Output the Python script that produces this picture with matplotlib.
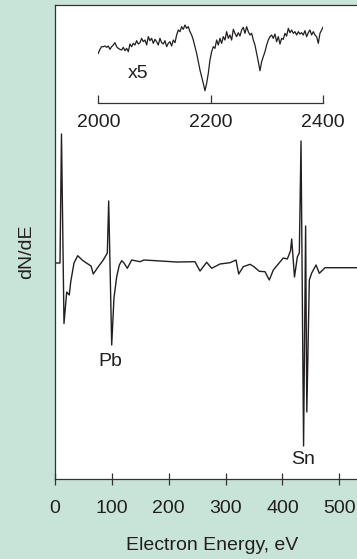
import matplotlib
matplotlib.use("Agg")
import matplotlib.pyplot as plt
import numpy as np

plt.rcParams['font.family'] = ['Liberation Sans', 'DejaVu Sans']

# Main spectrum (Electron energy in eV, dN/dE in arbitrary units)
energy = [0, 8.8, 11.4, 15.8, 20.6, 25.1, 27.6, 33.4, 39.9, 49.2, 63.3, 67.3, 76.1,
          84.9, 92.0, 94.4, 99.7, 103.7, 108.5, 113.1, 117.3, 121.3, 127.1, 134.9,
          149.5, 156.5, 214.0, 246.2, 249.2, 255.0, 266.7, 275.5, 290.1, 307.7, 318.3,
          323.0, 331.1, 342.9, 349.9, 359.2, 369.3, 376.8, 383.9, 401.4, 408.5, 414.1,
          416.2, 421.1, 426.1, 429.6, 432.6, 437.1, 440.7, 442.8, 447.2, 451.4, 459.0,
          464.8, 474.8, 560.0]
dnde = [2, 2, 131, -58.5, -27, -30, -17, 2, 9.3, 4.3, -1, -9, -1.7,
        5, 12, 64, -80, -33, -11.7, 0, 4.3, 2, -3.3, 5,
        3.3, 5, 3, 3.3, 0, -6, 2.7, -3.3, 1, 2.3, 5,
        -9, -1.7, 0.7, -1.7, -6.3, -6.7, -15, -5, 7, 6, 14,
        26, -12, 8, 12, 124, -181, 39, -147, -15, -8, 0,
        -8.3, -2.7, -2.7]

# Inset spectrum (x5), 2000-2400 eV
inset_start, inset_stop = 2000, 2400
inset_signal = [150, 162, 170, 170, 172, 168, 172, 162, 170, 175, 182, 170, 165, 162, 160,
                168, 158, 165, 155, 178, 170, 180, 175, 188, 178, 182, 195, 185, 190, 175,
                200, 188, 195, 180, 192, 185, 175, 195, 182, 178, 188, 170, 180, 185, 172,
                190, 182, 205, 220, 215, 230, 222, 235, 225, 230, 215, 205, 190, 170, 150,
                125, 100, 80, 60, 38, 60, 90, 130, 155, 170, 165, 190, 175, 195, 180,
                200, 190, 215, 195, 205, 190, 222, 210, 200, 212, 202, 220, 228, 210, 230,
                215, 205, 210, 190, 175, 150, 125, 98, 125, 140, 155, 175, 190, 200, 205,
                195, 208, 185, 200, 178, 195, 192, 210, 202, 225, 212, 220, 210, 215, 205,
                215, 208, 212, 205, 218, 200, 212, 220, 205, 215, 205, 200, 180, 210, 220,
                230]

main_ticks = [0, 100, 200, 300, 400, 500]
inset_ticks = [2000, 2200, 2400]

bg = '#c8e4d8'
ink = '#231f20'
W, H = 357, 559
FS = 14

fig = plt.figure(figsize=(W / 100, H / 100), dpi=100, facecolor=bg)

def px_rect(x0, y0, x1, y1):
    return [x0 / W, 1 - y1 / H, (x1 - x0) / W, (y1 - y0) / H]

ax = fig.add_axes(px_rect(55, 5, 370, 479))
ax.set_facecolor('white')
ax.plot(energy, dnde, color=ink, lw=1.0)
ax.set_xlim(0, 315 / 0.5687)
ax.set_ylim(-214, 260)
ax.set_xticks(main_ticks)
ax.set_xticklabels([str(t) for t in main_ticks])
ax.set_yticks([])
for s in ['left', 'top', 'bottom']:
    ax.spines[s].set_color('#333333')
    ax.spines[s].set_linewidth(0.9)
ax.spines['right'].set_visible(False)
ax.tick_params(axis='x', direction='inout', length=8, width=0.9, color='#333333',
               pad=11, labelsize=FS, labelcolor=ink)
ax.text(96.7, -97, 'Pb', ha='center', va='center', fontsize=FS, color=ink)
ax.text(436.6, -194, 'Sn', ha='center', va='center', fontsize=FS, color=ink)

fig.text(212.5 / W, 1 - 545 / H, 'Electron Energy, eV', ha='center', va='center',
         fontsize=FS, color=ink)
fig.text(27 / W, 1 - 252 / H, 'dN/dE', ha='center', va='center', rotation=90,
         fontsize=FS, color=ink)

# inset
axi = fig.add_axes(px_rect(98.3, 15, 323.3, 102.7))
axi.patch.set_alpha(0)
inset_energy = np.linspace(inset_start, inset_stop, len(inset_signal))
axi.plot(inset_energy, inset_signal, color=ink, lw=0.9)
axi.set_xlim(inset_start, inset_stop)
axi.set_ylim(2, 265)
axi.set_xticks(inset_ticks)
axi.set_xticklabels([str(t) for t in inset_ticks])
axi.set_yticks([])
for s in ['left', 'top', 'right']:
    axi.spines[s].set_visible(False)
axi.spines['bottom'].set_color('#333333')
axi.spines['bottom'].set_linewidth(0.9)
axi.tick_params(axis='x', direction='in', length=6, width=0.9, color='#333333',
                pad=8, labelsize=FS, labelcolor=ink)
axi.text(2070.6, 91, 'x5', ha='center', va='center', fontsize=FS, color=ink)

fig.savefig('out.png', dpi=100, facecolor=bg)
